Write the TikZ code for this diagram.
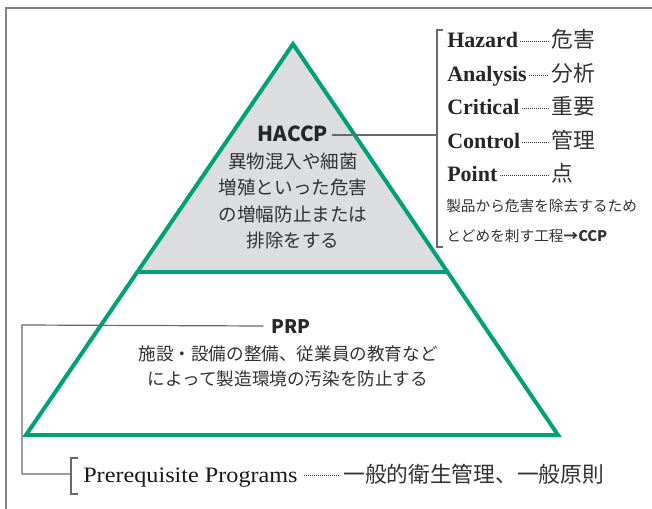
\documentclass[tikz,border=0pt]{standalone}
\usepackage{fontspec}
\setmainfont{Noto Sans CJK JP}
\newfontfamily\jp{Noto Sans CJK JP}
\newfontfamily\en{Liberation Serif}
\newfontfamily\enw{Liberation Serif}[FakeStretch=1.1]
\usetikzlibrary{calc}
\definecolor{tri}{RGB}{0,160,120}
\definecolor{trifill}{RGB}{220,221,223}
\definecolor{framec}{RGB}{130,130,130}
\definecolor{connc}{RGB}{105,105,105}
\definecolor{txt}{RGB}{50,50,50}
\begin{document}
\begin{tikzpicture}[x=0.75pt,y=-0.75pt,
  conn/.style={draw=connc,line width=0.9pt},
  leader/.style={draw=txt,line width=0.7pt,dash pattern=on 0.5pt off 1.0pt},
  jtxt/.style={inner sep=0pt,text=txt,font=\jp},
  entxt/.style={inner sep=0pt,text=black!85,font=\en\bfseries\fontsize{16.5pt}{18pt}\selectfont,anchor=base west},
  jword/.style={inner sep=0pt,text=txt,font=\jp\fontsize{16.3pt}{18pt}\selectfont,anchor=base west},
  boldlabel/.style={inner sep=0pt,text=black!85,font=\jp\bfseries\fontsize{15.5pt}{18pt}\selectfont}]
\useasboundingbox (0,0) rectangle (652,509);
\fill[white] (0,0) rectangle (652,509);
% frame
\draw[draw=framec,line width=1.1pt] (6,509) -- (6,8) -- (652,8);
% triangle
\coordinate (A) at (293,44);
\coordinate (BL) at (26,435);
\coordinate (BR) at (558,435);
\coordinate (DL) at ($(A)!0.5831!(BL)$);
\coordinate (DR) at ($(A)!0.5831!(BR)$);
\fill[trifill] (A) -- (DL) -- (DR) -- cycle;
\draw[draw=tri,line width=3pt,line join=miter] (A) -- (BL) -- (BR) -- cycle;
\draw[draw=tri,line width=3pt] (DL) -- (DR);
% HACCP
\node[boldlabel] (haccp) at (293,134) {HACCP};
\node[jtxt,align=center,font=\jp\fontsize{13.9pt}{19.9pt}\selectfont] (haccpt) at (293,201)
  {異物混入や細菌\\増殖といった危害\\の増幅防止または\\排除をする};
% PRP
\node[boldlabel,font=\jp\bfseries\fontsize{14pt}{16pt}\selectfont] (prp) at (291,327) {PRP};
\node[jtxt,align=center,font=\jp\fontsize{13.2pt}{18.75pt}\selectfont] (prpt) at (288,366)
  {施設・設備の整備、従業員の教育など\\によって製造環境の汚染を防止する};
% right list bracket
\coordinate (hb) at (437,134);
\draw[conn] (443,30) -- (437,30) -- (437,247) -- (443,247);
\draw[conn] ($(haccp.east)+(4,1)$) -- (hb |- {$(haccp.east)+(4,1)$});
\node[entxt] (e1) at (447,48) {Hazard};
\node[entxt] (e2) at (447,82) {Analysis};
\node[entxt] (e3) at (447,115) {Critical};
\node[entxt] (e4) at (447,149) {Control};
\node[entxt] (e5) at (447,182) {Point};
\node[jword] (j1) at (551,48) {危害};
\node[jword] (j2) at (551,82) {分析};
\node[jword] (j3) at (551,115) {重要};
\node[jword] (j4) at (551,149) {管理};
\node[jword] (j5) at (551,182) {点};
\foreach \i in {1,...,5}{
  \draw[leader] ($(e\i.base east)+(2,-7)$) -- ($(j\i.base west)+(-2,-7)$);
}
\node[jtxt,align=left,anchor=north west,font=\jp\fontsize{11pt}{22.5pt}\selectfont] (ccp) at (446,199)
  {製品から危害を除去するため\\とどめを刺す工程{\bfseries →CCP}};
% PRP connector and bottom bracket
\coordinate (pb) at (71,474);
\draw[conn] ($(prp.west)+(-8,-1)$) -- (22,{325}) -- (22,474) -- (pb);
\draw[conn] (78,458) -- (71,458) -- (71,494) -- (78,494);
\node[inner sep=0pt,anchor=base west,text=black!90,font=\enw\fontsize{16.5pt}{18pt}\selectfont] (pp) at (83,482) {Prerequisite Programs};
\node[jword] (ppj) at (343,482) {一般的衛生管理、一般原則};
\draw[leader] ($(pp.base east)+(6,-7)$) -- ($(ppj.base west)+(-5,-7)$);
\end{tikzpicture}
\end{document}
